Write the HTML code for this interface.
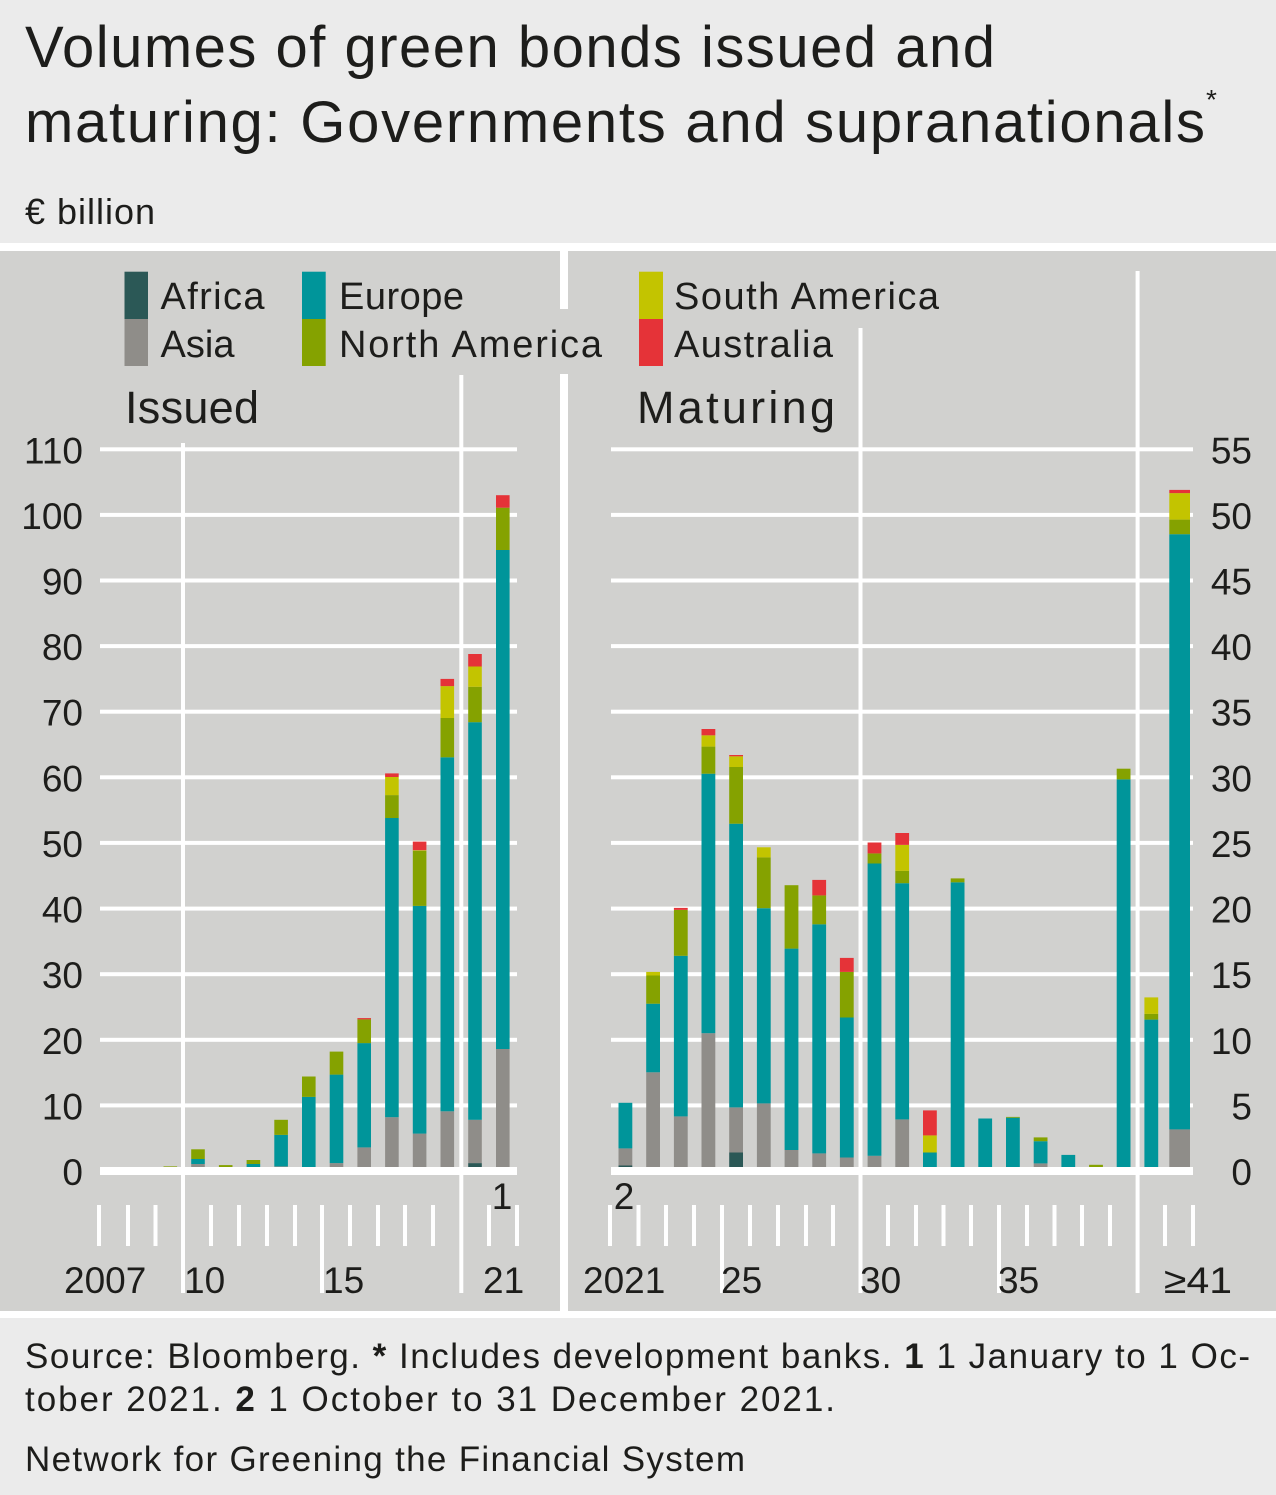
<!DOCTYPE html>
<html><head><meta charset="utf-8">
<style>
html,body{margin:0;padding:0;background:#ebebeb;}
svg{display:block;}
text{font-family:"Liberation Sans","DejaVu Sans",sans-serif;fill:#1d1d1b;}
.af{fill:#2b5856}.as{fill:#8f8d89}.eu{fill:#00959a}.na{fill:#85a200}.sa{fill:#c3c400}.au{fill:#e53338}
.w{fill:#ffffff}
.tk{font-size:37px;}
</style></head>
<body>
<svg width="1276" height="1495" viewBox="0 0 1276 1495" xmlns="http://www.w3.org/2000/svg">
<!-- backgrounds -->
<rect x="0" y="0" width="1276" height="1495" fill="#ebebeb"/>
<rect x="0" y="243" width="1276" height="8" fill="#ffffff"/>
<rect x="0" y="251" width="1276" height="1060" fill="#d1d1cf"/>
<rect x="0" y="1311" width="1276" height="7" fill="#ffffff"/>
<!-- divider -->
<rect class="w" x="560" y="251" width="8" height="58"/>
<rect class="w" x="560" y="374" width="8" height="937"/>

<!-- title -->
<text x="25" y="67" font-size="58" textLength="970" lengthAdjust="spacing">Volumes of green bonds issued and</text>
<text x="25" y="142" font-size="58" textLength="1180" lengthAdjust="spacing">maturing: Governments and supranationals</text>
<text x="1206" y="109" font-size="28">*</text>
<text x="25" y="224" font-size="36" textLength="130" lengthAdjust="spacing">€ billion</text>

<!-- gridlines left -->
<g class="w">
<rect x="100" y="1103.4" width="417" height="4"/>
<rect x="100" y="1037.8" width="417" height="4"/>
<rect x="100" y="972.2" width="417" height="4"/>
<rect x="100" y="906.6" width="417" height="4"/>
<rect x="100" y="840.9" width="417" height="4"/>
<rect x="100" y="775.3" width="417" height="4"/>
<rect x="100" y="709.7" width="417" height="4"/>
<rect x="100" y="644.1" width="417" height="4"/>
<rect x="100" y="578.5" width="417" height="4"/>
<rect x="100" y="512.9" width="417" height="4"/>
<rect x="100" y="447.3" width="417" height="4"/>
<!-- gridlines right -->
<rect x="611" y="1103.4" width="582" height="4"/>
<rect x="611" y="1037.8" width="582" height="4"/>
<rect x="611" y="972.2" width="582" height="4"/>
<rect x="611" y="906.6" width="582" height="4"/>
<rect x="611" y="840.9" width="582" height="4"/>
<rect x="611" y="775.3" width="582" height="4"/>
<rect x="611" y="709.7" width="582" height="4"/>
<rect x="611" y="644.1" width="582" height="4"/>
<rect x="611" y="578.5" width="582" height="4"/>
<rect x="611" y="512.9" width="582" height="4"/>
<rect x="611" y="447.3" width="582" height="4"/>
<!-- full vertical lines -->
<rect x="181" y="443" width="4" height="850"/>
<rect x="459.3" y="375" width="4" height="918"/>
<rect x="858.5" y="328" width="4" height="965"/>
<rect x="1135.6" y="271" width="4" height="1022"/>
<!-- ticks left -->
<rect x="97" y="1205" width="4" height="41"/>
<rect x="126" y="1205" width="4" height="41"/>
<rect x="153.5" y="1205" width="4" height="41"/>
<rect x="209" y="1205" width="4" height="41"/>
<rect x="237" y="1205" width="4" height="41"/>
<rect x="265" y="1205" width="4" height="41"/>
<rect x="293" y="1205" width="4" height="41"/>
<rect x="320" y="1205" width="4" height="88"/>
<rect x="348" y="1205" width="4" height="41"/>
<rect x="376" y="1205" width="4" height="41"/>
<rect x="403" y="1205" width="4" height="41"/>
<rect x="431" y="1205" width="4" height="41"/>
<rect x="487" y="1205" width="4" height="41"/>
<rect x="515" y="1205" width="4" height="41"/>
<!-- ticks right -->
<rect x="608" y="1205" width="4" height="41"/>
<rect x="636.5" y="1205" width="4" height="41"/>
<rect x="664" y="1205" width="4" height="41"/>
<rect x="692" y="1205" width="4" height="41"/>
<rect x="720" y="1205" width="4" height="88"/>
<rect x="748" y="1205" width="4" height="41"/>
<rect x="776" y="1205" width="4" height="41"/>
<rect x="804" y="1205" width="4" height="41"/>
<rect x="831" y="1205" width="4" height="41"/>
<rect x="886" y="1205" width="4" height="41"/>
<rect x="914" y="1205" width="4" height="41"/>
<rect x="941.5" y="1205" width="4" height="41"/>
<rect x="969" y="1205" width="4" height="41"/>
<rect x="997" y="1205" width="4" height="88"/>
<rect x="1025" y="1205" width="4" height="41"/>
<rect x="1052.5" y="1205" width="4" height="41"/>
<rect x="1080" y="1205" width="4" height="41"/>
<rect x="1108" y="1205" width="4" height="41"/>
<rect x="1163" y="1205" width="4" height="41"/>
<rect x="1191" y="1205" width="4" height="41"/>
</g>

<!-- LEFT BARS -->
<g>
<rect class="na" x="163.5" y="1166.4" width="13.6" height="4.6"/>

<rect class="as" x="191.2" y="1164" width="13.6" height="7"/>
<rect class="eu" x="191.2" y="1159" width="13.6" height="5"/>
<rect class="na" x="191.2" y="1149.3" width="13.6" height="9.7"/>

<rect class="na" x="218.9" y="1165.1" width="13.6" height="5.9"/>

<rect class="eu" x="246.6" y="1164" width="13.6" height="7"/>
<rect class="na" x="246.6" y="1160" width="13.6" height="4"/>

<rect class="as" x="274.3" y="1166.4" width="13.6" height="4.6"/>
<rect class="eu" x="274.3" y="1134.9" width="13.6" height="31.5"/>
<rect class="na" x="274.3" y="1119.8" width="13.6" height="15.1"/>

<rect class="eu" x="302" y="1096.9" width="13.6" height="74.1"/>
<rect class="na" x="302" y="1076.5" width="13.6" height="20.4"/>

<rect class="as" x="329.7" y="1163.1" width="13.6" height="7.9"/>
<rect class="eu" x="329.7" y="1074.6" width="13.6" height="88.5"/>
<rect class="na" x="329.7" y="1051.6" width="13.6" height="23"/>

<rect class="as" x="357.4" y="1147.4" width="13.6" height="23.6"/>
<rect class="eu" x="357.4" y="1043.1" width="13.6" height="104.3"/>
<rect class="na" x="357.4" y="1019.4" width="13.6" height="23.7"/>
<rect class="au" x="357.4" y="1018.1" width="13.6" height="1.3"/>

<rect class="as" x="385.1" y="1117.2" width="13.6" height="53.8"/>
<rect class="eu" x="385.1" y="818" width="13.6" height="299.2"/>
<rect class="na" x="385.1" y="795.1" width="13.6" height="22.9"/>
<rect class="sa" x="385.1" y="777" width="13.6" height="18.1"/>
<rect class="au" x="385.1" y="773.4" width="13.6" height="3.6"/>

<rect class="af" x="412.8" y="1167.4" width="13.6" height="3.6"/>
<rect class="as" x="412.8" y="1133.6" width="13.6" height="33.8"/>
<rect class="eu" x="412.8" y="905.9" width="13.6" height="227.7"/>
<rect class="na" x="412.8" y="850.8" width="13.6" height="55.1"/>
<rect class="sa" x="412.8" y="850.2" width="13.6" height="0.6"/>
<rect class="au" x="412.8" y="841.6" width="13.6" height="8.6"/>

<rect class="as" x="440.5" y="1111.3" width="13.6" height="59.7"/>
<rect class="eu" x="440.5" y="757.3" width="13.6" height="354"/>
<rect class="na" x="440.5" y="718" width="13.6" height="39.3"/>
<rect class="sa" x="440.5" y="686.1" width="13.6" height="31.9"/>
<rect class="au" x="440.5" y="678.9" width="13.6" height="7.2"/>

<rect class="af" x="468.2" y="1163.1" width="13.6" height="7.9"/>
<rect class="as" x="468.2" y="1119.8" width="13.6" height="43.3"/>
<rect class="eu" x="468.2" y="722.2" width="13.6" height="397.6"/>
<rect class="na" x="468.2" y="686.8" width="13.6" height="35.4"/>
<rect class="sa" x="468.2" y="666.5" width="13.6" height="20.3"/>
<rect class="au" x="468.2" y="654" width="13.6" height="12.5"/>

<rect class="as" x="496" y="1049" width="13.6" height="122"/>
<rect class="eu" x="496" y="550" width="13.6" height="499"/>
<rect class="na" x="496" y="507.7" width="13.6" height="42.3"/>
<rect class="au" x="496" y="495.2" width="13.6" height="12.5"/>
</g>

<!-- RIGHT BARS -->
<g>
<rect class="af" x="618.5" y="1165.5" width="13.8" height="5.5"/>
<rect class="as" x="618.5" y="1148.4" width="13.8" height="17.1"/>
<rect class="eu" x="618.5" y="1102.8" width="13.8" height="45.6"/>

<rect class="as" x="646.2" y="1072.3" width="13.8" height="98.7"/>
<rect class="eu" x="646.2" y="1003.7" width="13.8" height="68.6"/>
<rect class="na" x="646.2" y="975.5" width="13.8" height="28.2"/>
<rect class="sa" x="646.2" y="971.9" width="13.8" height="3.6"/>

<rect class="as" x="673.9" y="1116.4" width="13.8" height="54.6"/>
<rect class="eu" x="673.9" y="955.8" width="13.8" height="160.6"/>
<rect class="na" x="673.9" y="909.9" width="13.8" height="45.9"/>
<rect class="au" x="673.9" y="907.9" width="13.8" height="2"/>

<rect class="as" x="701.5" y="1033.2" width="13.8" height="137.8"/>
<rect class="eu" x="701.5" y="773.7" width="13.8" height="259.5"/>
<rect class="na" x="701.5" y="746.6" width="13.8" height="27.1"/>
<rect class="sa" x="701.5" y="735.3" width="13.8" height="11.3"/>
<rect class="au" x="701.5" y="729" width="13.8" height="6.3"/>

<rect class="af" x="729.2" y="1152.5" width="13.8" height="18.5"/>
<rect class="as" x="729.2" y="1107.4" width="13.8" height="45.1"/>
<rect class="eu" x="729.2" y="823.7" width="13.8" height="283.7"/>
<rect class="na" x="729.2" y="767" width="13.8" height="56.7"/>
<rect class="sa" x="729.2" y="756.3" width="13.8" height="10.7"/>
<rect class="au" x="729.2" y="755" width="13.8" height="1.3"/>

<rect class="as" x="756.9" y="1103.4" width="13.8" height="67.6"/>
<rect class="eu" x="756.9" y="908.2" width="13.8" height="195.2"/>
<rect class="na" x="756.9" y="857.4" width="13.8" height="50.8"/>
<rect class="sa" x="756.9" y="847.3" width="13.8" height="10.1"/>

<rect class="as" x="784.6" y="1150" width="13.8" height="21"/>
<rect class="eu" x="784.6" y="948.6" width="13.8" height="201.4"/>
<rect class="na" x="784.6" y="885.2" width="13.8" height="63.4"/>

<rect class="as" x="812.3" y="1153.4" width="13.8" height="17.6"/>
<rect class="eu" x="812.3" y="924.3" width="13.8" height="229.1"/>
<rect class="na" x="812.3" y="895.4" width="13.8" height="28.9"/>
<rect class="au" x="812.3" y="879.9" width="13.8" height="15.5"/>

<rect class="as" x="839.9" y="1157.5" width="13.8" height="13.5"/>
<rect class="eu" x="839.9" y="1017.5" width="13.8" height="140"/>
<rect class="na" x="839.9" y="971.9" width="13.8" height="45.6"/>
<rect class="au" x="839.9" y="957.9" width="13.8" height="14"/>

<rect class="as" x="867.6" y="1155.8" width="13.8" height="15.2"/>
<rect class="eu" x="867.6" y="863.5" width="13.8" height="292.3"/>
<rect class="na" x="867.6" y="853.4" width="13.8" height="10.1"/>
<rect class="au" x="867.6" y="842.5" width="13.8" height="10.9"/>

<rect class="as" x="895.3" y="1119.4" width="13.8" height="51.6"/>
<rect class="eu" x="895.3" y="883.2" width="13.8" height="236.2"/>
<rect class="na" x="895.3" y="870.9" width="13.8" height="12.3"/>
<rect class="sa" x="895.3" y="844.9" width="13.8" height="26"/>
<rect class="au" x="895.3" y="833" width="13.8" height="11.9"/>

<rect class="eu" x="923" y="1152.5" width="13.8" height="18.5"/>
<rect class="sa" x="923" y="1135.4" width="13.8" height="17.1"/>
<rect class="au" x="923" y="1110.4" width="13.8" height="25"/>

<rect class="eu" x="950.7" y="882.3" width="13.8" height="288.7"/>
<rect class="na" x="950.7" y="878.4" width="13.8" height="3.9"/>

<rect class="eu" x="978.3" y="1118.5" width="13.8" height="52.5"/>

<rect class="eu" x="1006" y="1117.7" width="13.8" height="53.3"/>
<rect class="na" x="1006" y="1116.9" width="13.8" height="0.8"/>

<rect class="as" x="1033.7" y="1163.4" width="13.8" height="7.6"/>
<rect class="eu" x="1033.7" y="1141.2" width="13.8" height="22.2"/>
<rect class="na" x="1033.7" y="1137.4" width="13.8" height="3.8"/>

<rect class="eu" x="1061.4" y="1154.9" width="13.8" height="16.1"/>

<rect class="na" x="1089.1" y="1164.8" width="13.8" height="6.2"/>

<rect class="eu" x="1116.7" y="779.4" width="13.8" height="391.6"/>
<rect class="na" x="1116.7" y="768.7" width="13.8" height="10.7"/>

<rect class="eu" x="1144.4" y="1019.6" width="13.8" height="151.4"/>
<rect class="na" x="1144.4" y="1013.9" width="13.8" height="5.7"/>
<rect class="sa" x="1144.4" y="997.4" width="13.8" height="16.5"/>

<rect class="as" x="1169.3" y="1129.4" width="20.7" height="41.6"/>
<rect class="eu" x="1169.3" y="534.2" width="20.7" height="595.2"/>
<rect class="na" x="1169.3" y="519.6" width="20.7" height="14.6"/>
<rect class="sa" x="1169.3" y="493.1" width="20.7" height="26.5"/>
<rect class="au" x="1169.3" y="489.9" width="20.7" height="3.2"/>
</g>

<!-- zero lines -->
<rect class="w" x="100" y="1167" width="417" height="8"/>
<rect class="w" x="611" y="1167" width="582" height="8"/>

<!-- left axis labels -->
<g class="tk" text-anchor="end">
<text x="83" y="1185">0</text>
<text x="83" y="1119.4">10</text>
<text x="83" y="1053.8">20</text>
<text x="83" y="988.2">30</text>
<text x="83" y="922.6">40</text>
<text x="83" y="856.9">50</text>
<text x="83" y="791.3">60</text>
<text x="83" y="725.7">70</text>
<text x="83" y="660.1">80</text>
<text x="83" y="594.5">90</text>
<text x="83" y="528.9">100</text>
<text x="83" y="463.3">110</text>
</g>
<!-- right axis labels -->
<g class="tk" text-anchor="end">
<text x="1252" y="1185">0</text>
<text x="1252" y="1119.4">5</text>
<text x="1252" y="1053.8">10</text>
<text x="1252" y="988.2">15</text>
<text x="1252" y="922.6">20</text>
<text x="1252" y="856.9">25</text>
<text x="1252" y="791.3">30</text>
<text x="1252" y="725.7">35</text>
<text x="1252" y="660.1">40</text>
<text x="1252" y="594.5">45</text>
<text x="1252" y="528.9">50</text>
<text x="1252" y="463.3">55</text>
</g>

<!-- x labels -->
<g class="tk">
<text x="64" y="1293">2007</text>
<text x="184" y="1293">10</text>
<text x="323" y="1293">15</text>
<text x="483" y="1293">21</text>
<text x="583" y="1293">2021</text>
<text x="721" y="1293">25</text>
<text x="860" y="1293">30</text>
<text x="998" y="1293">35</text>
<text x="1164" y="1293" textLength="68" lengthAdjust="spacingAndGlyphs">≥41</text>
<text x="502" y="1209" text-anchor="middle">1</text>
<text x="624" y="1209" text-anchor="middle">2</text>
</g>

<!-- panel titles -->
<text x="125" y="423" font-size="45" textLength="134" lengthAdjust="spacing">Issued</text>
<text x="637" y="423" font-size="45" textLength="198" lengthAdjust="spacing">Maturing</text>

<!-- legend -->
<rect class="af" x="124.5" y="271.7" width="23.5" height="47.3"/>
<rect class="as" x="124.5" y="319" width="23.5" height="47"/>
<rect class="eu" x="302" y="271.7" width="23.7" height="47.3"/>
<rect class="na" x="302" y="319" width="23.7" height="47"/>
<rect class="sa" x="639" y="271.7" width="24" height="47.3"/>
<rect class="au" x="639" y="319" width="24" height="47"/>
<g font-size="38">
<text x="160.5" y="309" textLength="104" lengthAdjust="spacing">Africa</text>
<text x="160.5" y="357" textLength="74" lengthAdjust="spacing">Asia</text>
<text x="339" y="309" textLength="125" lengthAdjust="spacing">Europe</text>
<text x="339" y="357" textLength="263" lengthAdjust="spacing">North America</text>
<text x="674" y="309" textLength="265" lengthAdjust="spacing">South America</text>
<text x="674" y="357" textLength="159" lengthAdjust="spacing">Australia</text>
</g>

<!-- footer -->
<g font-size="35">
<text x="25" y="1368" textLength="1225" lengthAdjust="spacing">Source: Bloomberg. <tspan font-weight="bold">*</tspan> Includes development banks. <tspan font-weight="bold">1</tspan> 1 January to 1 Oc-</text>
<text x="25" y="1411" textLength="810" lengthAdjust="spacing">tober 2021. <tspan font-weight="bold">2</tspan> 1 October to 31 December 2021.</text>
<text x="25" y="1471" textLength="720" lengthAdjust="spacing">Network for Greening the Financial System</text>
</g>
</svg>
</body></html>
